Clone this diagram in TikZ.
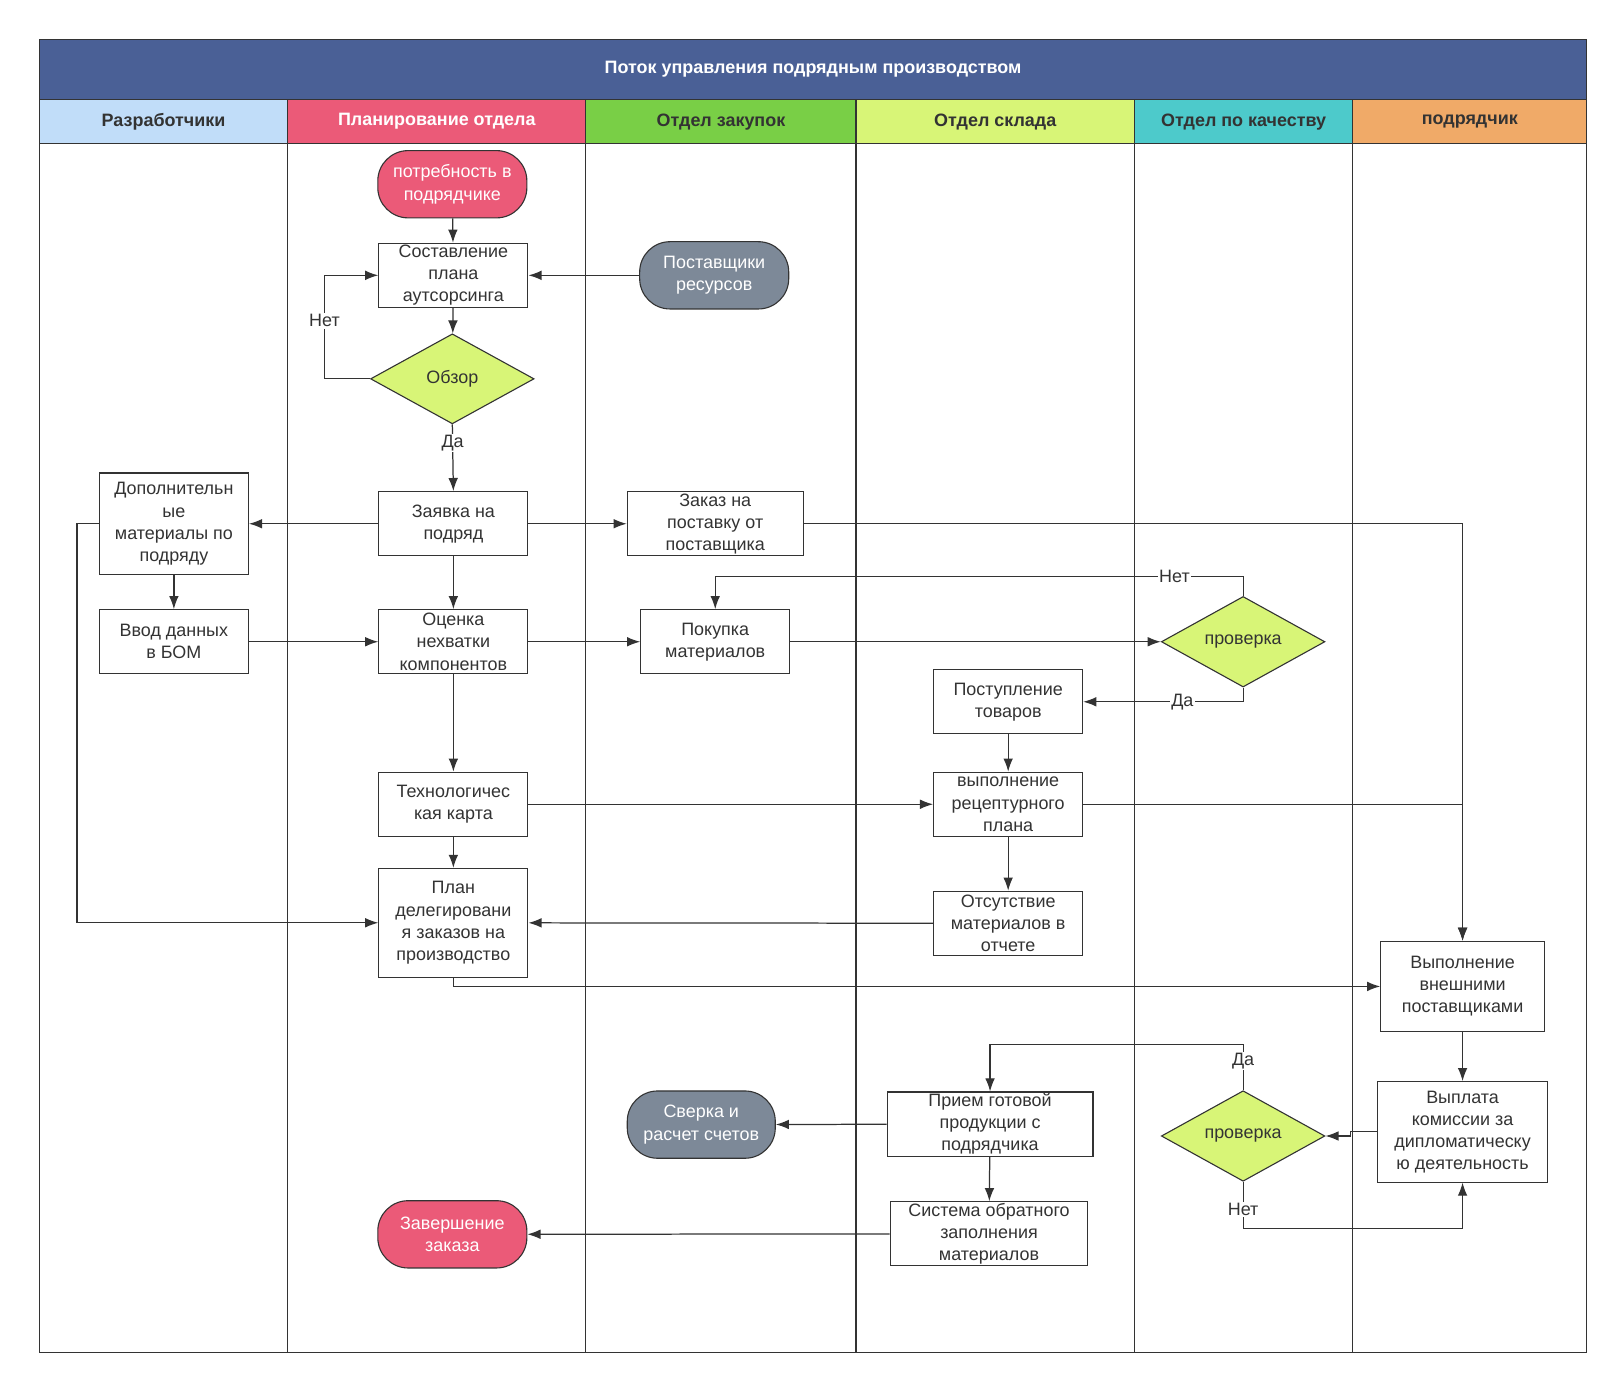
\documentclass[tikz,border=0pt]{standalone}
\usepackage{fontspec}
\setmainfont{Liberation Sans}
\usetikzlibrary{shapes.geometric,arrows.meta}
\definecolor{titleblue}{HTML}{4A6096}
\definecolor{pinkred}{HTML}{EB5A78}
\definecolor{lanegreen}{HTML}{79CF46}
\definecolor{lime}{HTML}{D8F577}
\definecolor{lanecyan}{HTML}{4DCACB}
\definecolor{laneorange}{HTML}{F0AA68}
\definecolor{laneblue}{HTML}{C1DDF9}
\definecolor{slate}{HTML}{7D8998}
\definecolor{dark}{HTML}{333333}
\newcommand{\bodyfont}{\fontsize{13}{16}\selectfont}
\newcommand{\headfont}{\fontsize{13}{16}\selectfont\bfseries}
\begin{document}
\begin{tikzpicture}[x=0.75pt,y=-0.75pt,
  box/.style={draw=dark, line width=0.8pt, fill=white, align=center, inner sep=0pt,
    minimum width=108pt, minimum height=46.5pt, text=dark, font=\bodyfont},
  term/.style={box, rounded corners=22pt, minimum height=48.75pt},
  decide/.style={diamond, draw=dark, line width=0.8pt, fill=lime, inner sep=0pt,
    minimum width=118.5pt, minimum height=65.25pt, text=dark, font=\bodyfont},
  hdr/.style={draw=dark, line width=0.8pt, minimum height=32.25pt, inner sep=0pt, font=\headfont},
  arr/.style={draw=dark, line width=0.9pt, -{Latex[length=9.5pt,width=7pt]}},
  lbl/.style={fill=white, inner sep=1pt, text=dark, font=\bodyfont},
  lane/.style={draw=dark, line width=0.8pt}
]
\useasboundingbox (0,0) rectangle (1568,1342);
\fill[white] (0,0) rectangle (1568,1342);

% title and headers
\node[hdr, fill=titleblue, text=white, minimum width=1121.25pt, minimum height=43.5pt] (title) at (785.5,67) {Поток управления подрядным производством};
\node[hdr, fill=laneblue, text=dark, minimum width=180pt] (h1) at (158,117.5) {Разработчики};
\node[hdr, fill=pinkred, text=white, minimum width=216pt] (h2) at (422,117.5) {Планирование отдела};
\node[hdr, fill=lanegreen, text=dark, minimum width=195.75pt] (h3) at (696.5,117.5) {Отдел закупок};
\node[hdr, fill=lime, text=dark, minimum width=201.75pt] (h4) at (961.5,117.5) {Отдел склада};
\node[hdr, fill=lanecyan, text=dark, minimum width=158.25pt] (h5) at (1201.5,117.5) {Отдел по качеству};
\node[hdr, fill=laneorange, text=dark, minimum width=169.5pt] (h6) at (1420,117.5) {подрядчик};

% lane bodies
\draw[lane] (38,139) rectangle (1533,1307);
\foreach \lx in {278,566,827,1096,1307} \draw[lane] (\lx,139) -- (\lx,1307);

% nodes
\node[term, fill=pinkred, text=white] (n1) at (437,178) {потребность в\\подрядчике};
\node[box] (n2) at (438,266) {Составление\\плана\\аутсорсинга};
\node[decide] (n3) at (437,366) {Обзор};
\node[term, fill=slate, text=white] (n4) at (690,266) {Поставщики\\ресурсов};
\node[box] (n5) at (438,506) {Заявка на\\подряд};
\node[box, minimum width=127.5pt] (n6) at (691,506) {Заказ на\\поставку от\\поставщика};
\node[box, minimum height=73.5pt] (n7) at (168,506) {Дополнительн\\ые\\материалы по\\подряду};
\node[box] (n8) at (168,620) {Ввод данных\\в БОМ};
\node[box] (n9) at (438,620) {Оценка\\нехватки\\компонентов};
\node[box] (n10) at (691,620) {Покупка\\материалов};
\node[decide] (n11) at (1201,620) {проверка};
\node[box] (n12) at (974,678) {Поступление\\товаров};
\node[box] (n13) at (974,777) {выполнение\\рецептурного\\плана};
\node[box] (n14) at (438,777) {Технологичес\\кая карта};
\node[box, minimum height=78.75pt] (n15) at (438,891.5) {План\\делегировани\\я заказов на\\производство};
\node[box] (n16) at (974,892) {Отсутствие\\материалов в\\отчете};
\node[box, minimum width=118.5pt, minimum height=65.25pt] (n17) at (1413,953) {Выполнение\\внешними\\поставщиками};
\node[box, minimum width=123pt, minimum height=72.75pt] (n18) at (1413,1093.5) {Выплата\\комиссии за\\дипломатическу\\ю деятельность};
\node[decide] (n19) at (1201,1097.5) {проверка};
\node[box, minimum width=149.25pt] (n20) at (956.5,1086) {Прием готовой\\продукции с\\подрядчика};
\node[term, fill=slate, text=white, minimum width=107.25pt] (n21) at (677.5,1086.5) {Сверка и\\расчет счетов};
\node[box, minimum width=143.25pt] (n22) at (955.5,1192) {Система обратного\\заполнения\\материалов};
\node[term, fill=pinkred, text=white] (n23) at (437,1192.5) {Завершение\\заказа};

% connectors
\draw[arr] (n1) -- (n2);
\draw[arr] (n4) -- (n2);
\draw[arr] (n2) -- (n3);
\draw[arr] (n3.west) -- ++(-44,0) |- node[lbl,pos=0.28]{Нет} (n2.west);
\draw[arr] (n3.south) -- node[lbl,pos=0.28]{Да} (n5.north);
\draw[arr] (n5) -- (n7);
\draw[arr] (n5) -- (n6);
\draw[arr] (n6.east) -| (n17.north);
\draw[arr] (n7) -- (n8);
\draw[arr] (n7.west) -- ++(-21,0) |- (n15.west);
\draw[arr] (n8) -- (n9);
\draw[arr] (n9) -- (n10);
\draw[arr] (n10) -- (n11);
\draw[arr] (n11.north) -- ++(0,-19) -| node[lbl,pos=0.065]{Нет} (n10.north);
\draw[arr] (n11.south) |- node[lbl,pos=0.69]{Да} (n12.east);
\draw[arr] (n5) -- (n9);
\draw[arr] (n9) -- (n14);
\draw[arr] (n12) -- (n13);
\draw[arr] (n14) -- (n13);
\draw[arr] (n13) -- (n16);
\draw[arr] (n16) -- (n15);
\draw[arr] (n14) -- (n15);
\draw[arr] (n15.south) |- (n17.west);
\draw[arr] (n13.east) -| (n17.north);
\draw[arr] (n17) -- (n18);
\draw[arr] (n18.west) -- ++(-26,0) |- (n19.east);
\draw[arr] (n19.north) -- node[lbl,pos=0.64]{Да} ++(0,-44) -| (n20.north);
\draw[arr] (n19.south) -- node[lbl,pos=0.6]{Нет} ++(0,45) -| (n18.south);
\draw[arr] (n20) -- (n21);
\draw[arr] (n20) -- (n22);
\draw[arr] (n22) -- (n23);
\end{tikzpicture}
\end{document}
